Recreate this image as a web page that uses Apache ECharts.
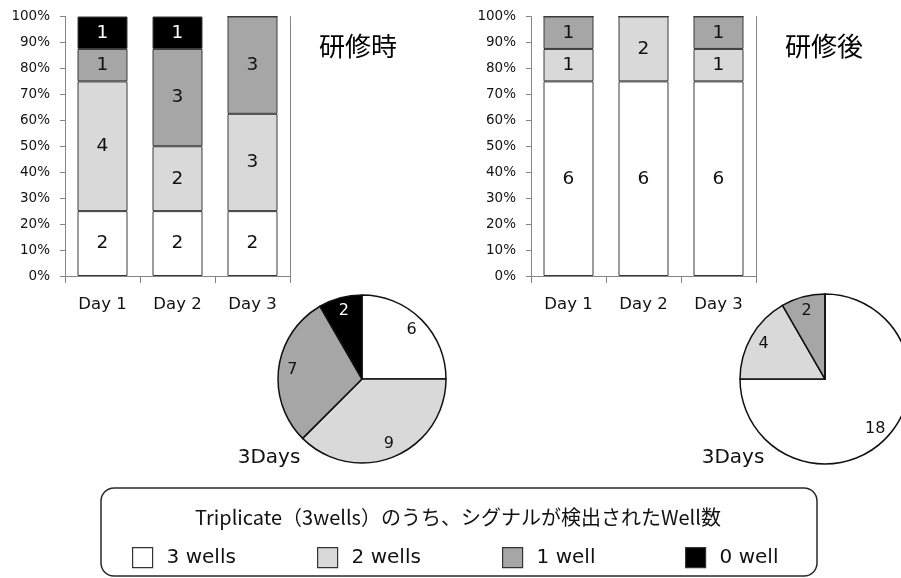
<!DOCTYPE html>
<html>
<head>
<meta charset="utf-8">
<script src="https://cdn.jsdelivr.net/npm/echarts@6/dist/echarts.min.js"></script>
<style>
  html, body { margin: 0; padding: 0; background: #ffffff; }
  #main { width: 901px; height: 578px; }
</style>
</head>
<body>
<div id="main"></div>
<script>
// Categories and series labels
const days = ['Day 1', 'Day 2', 'Day 3'];
const wellNames = ['3 wells', '2 wells', '1 well', '0 well'];
const wellColors = ['#ffffff', '#d9d9d9', '#a6a6a6', '#000000'];

// Number of samples per day by detected wells — 研修時
const before3 = [2, 2, 2];
const before2 = [4, 2, 3];
const before1 = [1, 3, 3];
const before0 = [1, 1, 0];

// Number of samples per day by detected wells — 研修後
const after3 = [6, 6, 6];
const after2 = [1, 2, 1];
const after1 = [1, 0, 1];
const after0 = [0, 0, 0];

// 3-day totals
const pieBefore = [6, 9, 7, 2];
const pieAfter = [18, 4, 2, 0];

const LATIN = 'DejaVu Sans';
const AXIS_GRAY = '#868686';
const EDGE = '#3a3a3a';

const chart = echarts.init(document.getElementById('main'));

// text colour that stays readable on each fill
const labelColor = i => (i === 3 ? '#ffffff' : '#111111');

// 100% stacked bars: the height is the share of the day total, the label is the count
function stackedSeries(groups, gridIdx) {
  const totals = days.map((_, d) => groups.reduce((s, g) => s + g[d], 0));
  return groups.map((g, i) => ({
    name: wellNames[i],
    type: 'bar',
    stack: 'grp' + gridIdx,
    xAxisIndex: gridIdx,
    yAxisIndex: gridIdx * 2,
    barWidth: 50,
    itemStyle: { color: wellColors[i], borderColor: EDGE, borderWidth: 1 },
    label: {
      show: true,
      position: 'inside',
      fontFamily: LATIN,
      fontSize: 18.5,
      color: labelColor(i),
      formatter: p => (p.data.count ? String(p.data.count) : '')
    },
    emphasis: { disabled: true },
    data: g.map((c, d) => ({ value: (c / totals[d]) * 100, count: c }))
  }));
}

function pieSeries(values, center, r) {
  return [
    {
      type: 'pie',
      center: center,
      radius: r,
      startAngle: 90,
      clockwise: true,
      label: { show: false },
      labelLine: { show: false },
      itemStyle: { borderColor: '#111111', borderWidth: 1.5 },
      emphasis: { disabled: true },
      data: values.map((v, i) => ({
        name: wellNames[i],
        value: v,
        itemStyle: { color: wellColors[i] }
      }))
    },
    {
      // transparent ring carrying the slice labels at ~0.8 of the radius
      type: 'pie',
      center: center,
      radius: [r * 0.6, r],
      startAngle: 90,
      clockwise: true,
      silent: true,
      z: 3,
      itemStyle: { color: 'rgba(0,0,0,0)', borderWidth: 0 },
      label: {
        show: true,
        position: 'inside',
        fontFamily: LATIN,
        fontSize: 16,
        formatter: p => (p.value ? String(p.value) : '')
      },
      labelLine: { show: false },
      emphasis: { disabled: true },
      data: values.map((v, i) => ({
        name: wellNames[i],
        value: v,
        label: { color: labelColor(i) }
      }))
    }
  ];
}

function xAxisFor(gridIdx) {
  return {
    type: 'category',
    gridIndex: gridIdx,
    data: days,
    boundaryGap: true,
    axisLine: { show: true, lineStyle: { color: AXIS_GRAY, width: 1 } },
    axisTick: { show: true, length: 7, lineStyle: { color: AXIS_GRAY } },
    axisLabel: { fontFamily: LATIN, fontSize: 16.5, color: '#111111', margin: 20 },
    splitLine: { show: false }
  };
}

function yAxesFor(gridIdx) {
  return [
    {
      type: 'value',
      gridIndex: gridIdx,
      min: 0,
      max: 100,
      interval: 10,
      axisLine: { show: true, lineStyle: { color: AXIS_GRAY, width: 1 } },
      axisTick: { show: true, length: 5, lineStyle: { color: AXIS_GRAY } },
      axisLabel: { formatter: '{value}%', fontFamily: LATIN, fontSize: 13.5, color: '#111111', margin: 15 },
      splitLine: { show: false }
    },
    {
      // right-hand frame line of the plot area
      type: 'value',
      gridIndex: gridIdx,
      position: 'right',
      min: 0,
      max: 100,
      axisLine: { show: true, onZero: false, lineStyle: { color: AXIS_GRAY, width: 1 } },
      axisTick: { show: false },
      axisLabel: { show: false },
      splitLine: { show: false }
    }
  ];
}

const legendLefts = [132, 317, 502, 685];

const option = {
  backgroundColor: '#ffffff',
  animation: false,
  grid: [
    { left: 65, top: 16.5, width: 225, height: 259.5 },
    { left: 531, top: 16.5, width: 225, height: 259.5 }
  ],
  xAxis: [xAxisFor(0), xAxisFor(1)],
  yAxis: [...yAxesFor(0), ...yAxesFor(1)],
  legend: wellNames.map((n, i) => ({
    data: [n],
    left: legendLefts[i],
    top: 547,
    padding: 0,
    icon: 'rect',
    itemWidth: 20,
    itemHeight: 20,
    selectedMode: false,
    itemStyle: { borderColor: '#333333', borderWidth: 1.2 },
    textStyle: { fontFamily: LATIN, fontSize: 20, color: '#111111', padding: [0, 0, 0, 9] }
  })),
  series: [
    ...stackedSeries([before3, before2, before1, before0], 0),
    ...stackedSeries([after3, after2, after1, after0], 1),
    ...pieSeries(pieBefore, [362, 379], 84),
    ...pieSeries(pieAfter, [825, 379], 85)
  ],
  graphic: [
    {
      type: 'rect',
      shape: { x: 101, y: 488, width: 716, height: 88, r: 13 },
      style: { fill: 'none', stroke: '#2a2a2a', lineWidth: 1.5 },
      z: 0
    },
    {
      type: 'text',
      x: 458, y: 517,
      style: {
        text: 'Triplicate（3wells）のうち、シグナルが検出されたWell数',
        font: '20px "Noto Sans CJK JP"',
        fill: '#111111',
        align: 'center',
        verticalAlign: 'middle'
      }
    },
    {
      type: 'text', x: 358, y: 46,
      style: { text: '研修時', font: '26px "Noto Sans CJK JP"', fill: '#000000', align: 'center', verticalAlign: 'middle' }
    },
    {
      type: 'text', x: 824, y: 46,
      style: { text: '研修後', font: '26px "Noto Sans CJK JP"', fill: '#000000', align: 'center', verticalAlign: 'middle' }
    },
    {
      type: 'text', x: 269, y: 458,
      style: { text: '3Days', font: '20px "DejaVu Sans"', fill: '#111111', align: 'center', verticalAlign: 'middle' }
    },
    {
      type: 'text', x: 733, y: 458,
      style: { text: '3Days', font: '20px "DejaVu Sans"', fill: '#111111', align: 'center', verticalAlign: 'middle' }
    }
  ]
};

chart.setOption(option);
</script>
</body>
</html>
